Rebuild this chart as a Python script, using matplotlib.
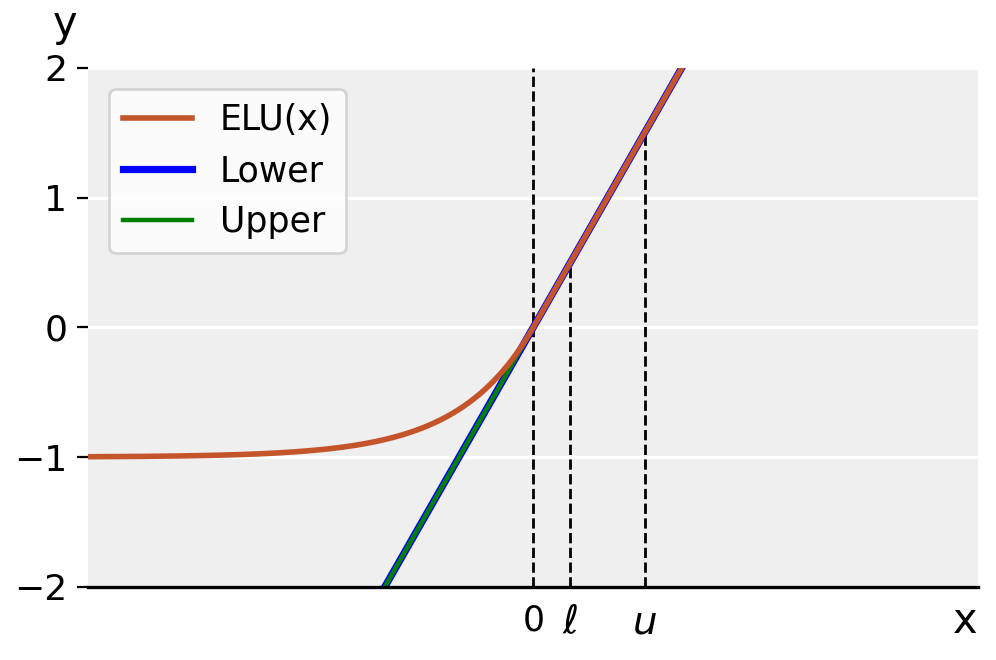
"""ELU(x) with its linear lower/upper bounds on [l, u]."""

import matplotlib
matplotlib.use('Agg')
import matplotlib.pyplot as plt
import numpy as np

X_RANGE = (-6.0, 6.0)
Y_RANGE = (-2.0, 2.0)
L_VAL = 0.5          # position of ell
U_VAL = 1.5          # position of u
Y_TICKS = [-2, -1, 0, 1, 2]
X_TICKS = [0.0, L_VAL, U_VAL]
X_TICK_LABELS = ['0', r'$\ell$', r'$u$']
X_TICK_SIZES = [12.5, 14, 14]
# both bounds coincide with the linear piece: y = slope * x + intercept
LOWER_COEF = (1.0, 0.0)
UPPER_COEF = (1.0, 0.0)

ELU_COL = '#c4552b'
BG = '#efefef'


def elu(x):
    return np.where(x > 0, x, np.exp(x) - 1)


def main():
    plt.rcParams['font.size'] = 13
    fig = plt.figure(figsize=(4.98, 3.3), dpi=200)
    ax = fig.add_axes([0.0884, 0.111, 0.894, 0.786])
    ax.set_facecolor(BG)

    xs = np.linspace(X_RANGE[0], X_RANGE[1], 600)
    ax.plot(xs, LOWER_COEF[0] * xs + LOWER_COEF[1], color='blue',
            lw=2.6, label='Lower', zorder=3)
    ax.plot(xs, UPPER_COEF[0] * xs + UPPER_COEF[1], color='green',
            lw=1.6, label='Upper', zorder=4)
    ax.plot(xs, elu(xs), color=ELU_COL, lw=2.0, label='ELU(x)', zorder=5)

    # dashed markers
    ax.vlines(0.0, Y_RANGE[0], Y_RANGE[1], colors='black',
              linestyles='--', lw=1.0, zorder=2)
    ax.vlines([L_VAL, U_VAL], Y_RANGE[0], elu(np.array([L_VAL, U_VAL])),
              colors='black', linestyles='--', lw=1.0, zorder=2)

    ax.set_xlim(*X_RANGE)
    ax.set_ylim(*Y_RANGE)
    ax.set_yticks(Y_TICKS)
    ax.set_xticks(X_TICKS)
    ax.set_xticklabels(X_TICK_LABELS)
    for lab, size in zip(ax.get_xticklabels(), X_TICK_SIZES):
        lab.set_fontsize(size)
    ax.tick_params(axis='x', length=0, pad=6)
    ax.tick_params(axis='y', length=4, width=0.8)
    ax.yaxis.grid(True, color='white', lw=1.2)
    ax.set_axisbelow(True)

    for side in ['top', 'right', 'left']:
        ax.spines[side].set_visible(False)
    ax.spines['bottom'].set_linewidth(1.2)
    ax.spines['bottom'].set_zorder(6)

    ax.set_xlabel('x', fontsize=15)
    ax.xaxis.set_label_coords(0.985, -0.025)
    ax.set_ylabel('y', rotation=0, fontsize=15)
    ax.yaxis.set_label_coords(-0.026, 1.045)

    handles, labels = ax.get_legend_handles_labels()
    order = [2, 0, 1]
    ax.legend([handles[i] for i in order], [labels[i] for i in order],
              loc='upper left', fontsize=12.5, handletextpad=0.8,
              borderaxespad=0.6)

    fig.savefig('out.png', dpi=200)


if __name__ == "__main__":
    main()
